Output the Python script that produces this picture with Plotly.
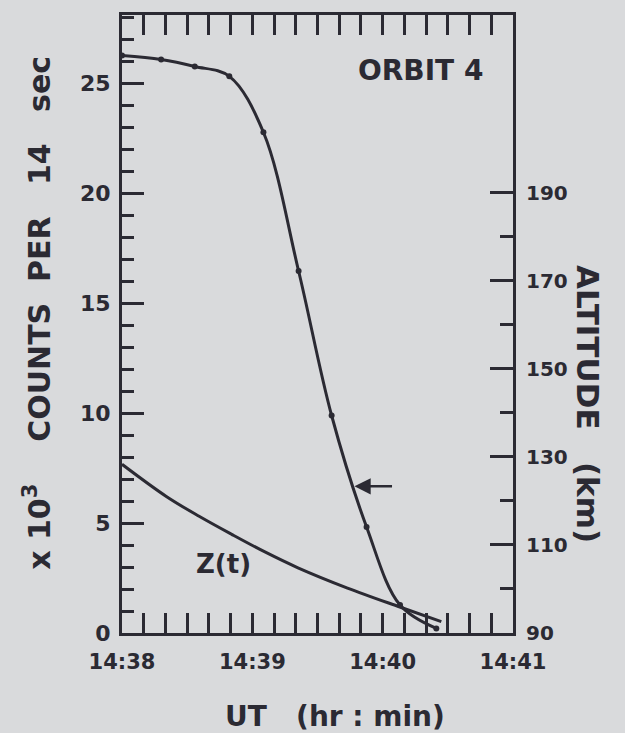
import plotly.graph_objects as go

# --- data (time in seconds after 14:38:00) ---
count_t = [0, 18, 33.5, 49.4, 65.1, 81.3, 96.5, 112.6, 128.0, 144.7]
count_v = [26.26, 26.08, 25.76, 25.31, 22.77, 16.46, 9.89, 4.82, 1.27, 0.21]  # x10^3 counts per 14 sec

z_t = [0, 20.4, 35.5, 50.5, 65.8, 81.0, 103.8, 127.9, 147.0]
z_alt = [128.3, 121.0, 116.5, 112.4, 108.4, 104.8, 100.2, 95.9, 92.6]  # km

x_tickvals = [0, 60, 120, 180]
x_ticktext = ["14:38", "14:39", "14:40", "14:41"]
y_tickvals = [0, 5, 10, 15, 20, 25]
y2_tickvals = [90, 110, 130, 150, 170, 190]
y2_minor = [100, 120, 140, 160, 180]

arrow_tip = (107, 6.67)
arrow_tail = (125, 6.67)

INK = "#2b2a33"
BG = "#d9dadc"
FONT = "DejaVu Sans"
W = 600

fig = go.Figure()
fig.add_trace(go.Scatter(
    x=count_t, y=count_v, mode="lines+markers",
    line=dict(color=INK, width=3, shape="spline", smoothing=1.0),
    marker=dict(color=INK, size=6), showlegend=False, yaxis="y"))
fig.add_trace(go.Scatter(
    x=z_t, y=z_alt, mode="lines",
    line=dict(color=INK, width=3, shape="spline", smoothing=1.0),
    showlegend=False, yaxis="y2"))

fig.update_layout(
    width=625, height=733,
    margin=dict(l=122, r=112, t=13, b=100),
    paper_bgcolor=BG, plot_bgcolor=BG,
    font=dict(family=FONT, color=INK, size=21, weight=W),
    xaxis=dict(
        range=[0, 180], tickmode="array", tickvals=x_tickvals, ticktext=x_ticktext,
        ticks="inside", ticklen=20, tickwidth=2.5, tickcolor=INK,
        minor=dict(dtick=10, tick0=0, ticks="inside", ticklen=12, tickwidth=2.5, tickcolor=INK),
        showline=True, linecolor=INK, linewidth=3, mirror="allticks",
        showgrid=False, zeroline=False, ticklabelstandoff=8,
        tickfont=dict(size=21, weight=W)),
    yaxis=dict(
        range=[0, 28.1], tickmode="array", tickvals=y_tickvals,
        ticks="inside", ticklen=22, tickwidth=2.5, tickcolor=INK,
        minor=dict(dtick=1, tick0=0, ticks="inside", ticklen=12, tickwidth=2.5, tickcolor=INK),
        showline=True, linecolor=INK, linewidth=3, mirror=False,
        showgrid=False, zeroline=False, ticklabelstandoff=4,
        tickfont=dict(size=22, weight=W)),
    yaxis2=dict(
        range=[90, 230.3], overlaying="y", side="right", tickmode="array",
        tickvals=y2_tickvals,
        ticks="inside", ticklen=23, tickwidth=2.5, tickcolor=INK,
        minor=dict(tickmode="array", tickvals=y2_minor, ticks="inside", ticklen=13,
                   tickwidth=2.5, tickcolor=INK),
        showline=True, linecolor=INK, linewidth=3,
        showgrid=False, zeroline=False, ticklabelstandoff=6,
        tickfont=dict(size=20, weight=W)),
)

def label(x, y, text, size, angle=0):
    fig.add_annotation(xref="paper", yref="paper", x=x, y=y, text=text,
                       textangle=angle, showarrow=False, xanchor="center",
                       yanchor="middle", font=dict(size=size, weight=W))

label(-0.215, 0.518, "x 10<sup>3</sup>    COUNTS  PER   14   sec", 30, -90)
label(1.19, 0.37, "ALTITUDE   (km)", 31, 90)
label(0.545, -0.135, "UT   (hr : min)", 28)
label(0.764, 0.910, "ORBIT 4", 28)
label(0.26, 0.111, "Z(t)", 26)

fig.add_annotation(x=arrow_tip[0], y=arrow_tip[1], ax=arrow_tail[0], ay=arrow_tail[1],
                   xref="x", yref="y", axref="x", ayref="y", text="",
                   showarrow=True, arrowhead=2, arrowsize=1.3, arrowwidth=2.5,
                   arrowcolor=INK)

fig.write_html("out.html", config={"displayModeBar": False},
               post_script="document.body.style.margin='0';"
                           "document.body.style.background='#d9dadc';")
